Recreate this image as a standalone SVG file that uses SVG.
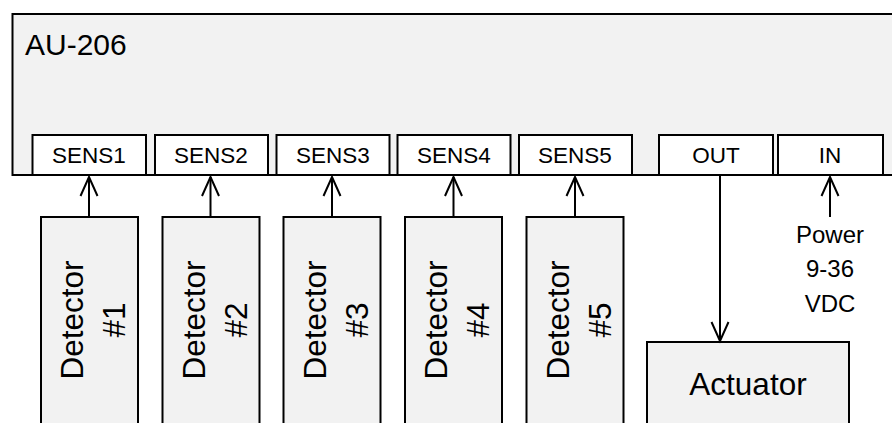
<svg xmlns="http://www.w3.org/2000/svg" width="892" height="423" viewBox="0 0 892 423">
<style>
.box{fill:#f2f2f2;stroke:#000;stroke-width:2}
.port{fill:#fff;stroke:#000;stroke-width:2}
.t{font-family:"Liberation Sans",Arial,sans-serif;fill:#000}
.pt{font-size:22.5px;text-anchor:middle}
.pw{font-size:24px;text-anchor:middle}
.dt{font-size:31.5px;text-anchor:middle}
.ln{stroke:#000;stroke-width:2;fill:none}
</style>
<defs>
<marker id="arr" markerUnits="userSpaceOnUse" markerWidth="24" markerHeight="24" refX="20" refY="10" orient="auto" viewBox="0 0 24 20">
<path d="M1,1.5 L20,10 L1,18.5" fill="none" stroke="#000" stroke-width="2"/>
</marker>
</defs>
<rect width="892" height="423" fill="#fff"/>
<g id="au206">
<rect class="box" x="12.5" y="14" width="890" height="161"/>
<text class="t" x="25" y="55" font-size="30">AU-206</text>
</g>
<g id="sens1"><rect class="port" x="32.5" y="135" width="113.5" height="40"/><text class="t pt" x="89" y="162.5">SENS1</text></g>
<g id="sens2"><rect class="port" x="155" y="135" width="113" height="40"/><text class="t pt" x="211" y="162.5">SENS2</text></g>
<g id="sens3"><rect class="port" x="276.5" y="135" width="113" height="40"/><text class="t pt" x="333" y="162.5">SENS3</text></g>
<g id="sens4"><rect class="port" x="397.5" y="135" width="113" height="40"/><text class="t pt" x="454" y="162.5">SENS4</text></g>
<g id="sens5"><rect class="port" x="519" y="135" width="113" height="40"/><text class="t pt" x="575" y="162.5">SENS5</text></g>
<g id="out"><rect class="port" x="659" y="135" width="114" height="40"/><text class="t pt" x="716" y="162.5">OUT</text></g>
<g id="in"><rect class="port" x="778" y="135" width="105" height="40"/><text class="t pt" x="830" y="162.5">IN</text></g>
<g id="det1"><rect class="box" x="41" y="217" width="97" height="220"/>
<text class="t dt" transform="translate(83,320) rotate(-90)">Detector</text><text class="t dt" transform="translate(125,320) rotate(-90)">#1</text></g>
<g id="det2"><rect class="box" x="162.5" y="217" width="97" height="220"/>
<text class="t dt" transform="translate(204.5,320) rotate(-90)">Detector</text><text class="t dt" transform="translate(246.5,320) rotate(-90)">#2</text></g>
<g id="det3"><rect class="box" x="283.5" y="217" width="97" height="220"/>
<text class="t dt" transform="translate(325.5,320) rotate(-90)">Detector</text><text class="t dt" transform="translate(367.5,320) rotate(-90)">#3</text></g>
<g id="det4"><rect class="box" x="405" y="217" width="97" height="220"/>
<text class="t dt" transform="translate(447,320) rotate(-90)">Detector</text><text class="t dt" transform="translate(489,320) rotate(-90)">#4</text></g>
<g id="det5"><rect class="box" x="526.5" y="217" width="97" height="220"/>
<text class="t dt" transform="translate(568.5,320) rotate(-90)">Detector</text><text class="t dt" transform="translate(610.5,320) rotate(-90)">#5</text></g>
<g id="actuator"><rect class="box" x="647" y="342" width="202" height="100"/>
<text class="t dt" x="748" y="395">Actuator</text></g>
<g id="power">
<text class="t pw" x="830" y="243">Power</text>
<text class="t pw" x="830" y="277">9-36</text>
<text class="t pw" x="830" y="312">VDC</text>
</g>
<g id="connectors">
<line class="ln" x1="89" y1="217" x2="89" y2="177" marker-end="url(#arr)"/>
<line class="ln" x1="210.5" y1="217" x2="210.5" y2="177" marker-end="url(#arr)"/>
<line class="ln" x1="332" y1="217" x2="332" y2="177" marker-end="url(#arr)"/>
<line class="ln" x1="453.5" y1="217" x2="453.5" y2="177" marker-end="url(#arr)"/>
<line class="ln" x1="575" y1="217" x2="575" y2="177" marker-end="url(#arr)"/>
<line class="ln" x1="720" y1="176" x2="720" y2="341" marker-end="url(#arr)"/>
<line class="ln" x1="830" y1="217" x2="830" y2="177" marker-end="url(#arr)"/>
</g>
</svg>
